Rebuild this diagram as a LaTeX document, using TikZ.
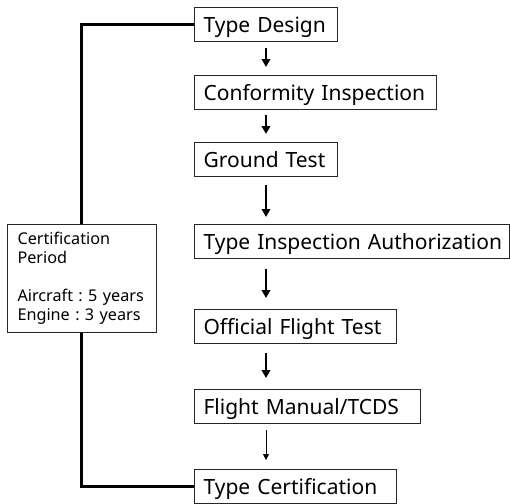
\documentclass[tikz,border=0pt]{standalone}
\usepackage{fontspec}
\setmainfont{Noto Sans}
\usetikzlibrary{arrows.meta}
\begin{document}
\frenchspacing
\begin{tikzpicture}[x=1pt,y=-1pt,
  box/.style={draw=black!85, line width=1.1pt, fill=white, anchor=north west, inner sep=0pt,
    minimum height=34pt, font=\fontsize{21}{24}\selectfont, align=left,
    text height=16pt, text depth=0pt},
  side/.style={draw=black!85, line width=1.1pt, fill=white, anchor=north west, inner xsep=10pt, inner ysep=0pt,
    minimum width=149pt, minimum height=108pt, text width=129pt, align=left,
    font=\fontsize{16.2}{19}\selectfont},
  arr/.style={line width=2.2pt, -{Triangle[length=8pt,width=8.5pt]}},
  thinarr/.style={line width=0.9pt, -{Triangle[length=6pt,width=6pt]}},
  spine/.style={line width=3pt}]
\useasboundingbox (0,0) rectangle (510,503);
\node[box, minimum width=143pt, text width=125pt] (td) at (194,7) {\mbox{Type Design}};
\node[box, minimum width=242pt, text width=224pt] (ci) at (194,75) {\mbox{Conformity Inspection}};
\node[box, minimum width=143pt, text width=125pt] (gt) at (194,142) {\mbox{Ground Test}};
\node[box, minimum width=315pt, text width=297pt] (tia) at (194,224) {\mbox{Type Inspection Authorization}};
\node[box, minimum width=202pt, text width=184pt] (oft) at (194,309) {\mbox{Official Flight Test}};
\node[box, minimum width=226pt, text width=208pt] (fm) at (194,389) {\mbox{Flight Manual/TCDS}};
\node[box, minimum width=202pt, text width=184pt] (tc) at (194,469) {\mbox{Type Certification}};
\coordinate (ax) at (266,0);
\coordinate (sp) at (81,0);
\draw[arr, shorten <=6pt, shorten >=8pt] (td.south -| ax) -- (ci.north -| ax);
\draw[arr, shorten <=5pt, shorten >=8pt] (ci.south -| ax) -- (gt.north -| ax);
\draw[arr, shorten <=8pt, shorten >=7pt] (gt.south -| ax) -- (tia.north -| ax);
\draw[arr, shorten <=10pt, shorten >=11pt] (tia.south -| ax) -- (oft.north -| ax);
\draw[arr, shorten <=9pt, shorten >=11pt] (oft.south -| ax) -- (fm.north -| ax);
\draw[thinarr, shorten <=6pt, shorten >=9pt] (fm.south -| ax) -- (tc.north -| ax);
\draw[spine] (td.west) -- (td.west -| sp) -- (tc.west -| sp) -- (tc.west);
\node[side] (cp) at (7,224) {Certification\\Period\\[19pt]Aircraft : 5 years\\Engine : 3 years};
\end{tikzpicture}
\end{document}
